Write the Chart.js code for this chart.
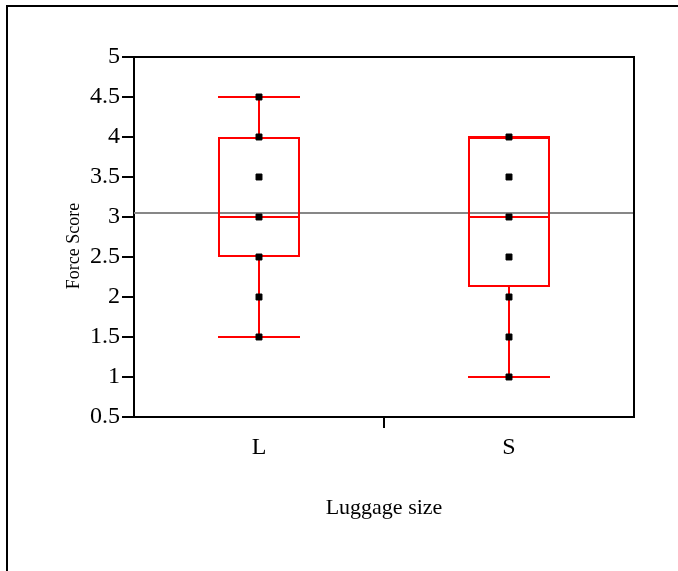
<!DOCTYPE html>
<html>
<head>
<meta charset="utf-8">
<title>Force Score by Luggage size</title>
<script src="https://cdn.jsdelivr.net/npm/chart.js@4.4.1/dist/chart.umd.min.js"></script>
<style>
  html, body { margin: 0; padding: 0; background: #fff; overflow: hidden; }
  #wrap { position: relative; width: 678px; height: 571px; }
  #frame {
    position: absolute; left: 6px; top: 5px; width: 700px; height: 600px;
    border-left: 2px solid #000; border-top: 2px solid #000;
  }
  #chart { position: absolute; left: 0; top: 0; }
</style>
</head>
<body>
<div id="wrap">
  <div id="frame"></div>
  <canvas id="chart" width="678" height="571"></canvas>
</div>
<script>
'use strict';

// data
const categories = ['L', 'S'];
const scoresL = [1.5, 2, 2.5, 3, 3.5, 4, 4.5];
const scoresS = [1, 1.5, 2, 2.5, 3, 3.5, 4];
const lows = [1.5, 1];
const q1s = [2.5, 2.125];
const medians = [3, 3];
const q3s = [4, 4];
const highs = [4.5, 4];
const grandMean = 3.05;
const yTicks = [0.5, 1, 1.5, 2, 2.5, 3, 3.5, 4, 4.5, 5];
const yTickLabels = ['0.5', '1', '1.5', '2', '2.5', '3', '3.5', '4', '4.5', '5'];
const yTitle = 'Force Score';

const RED = '#ff0000';
const SERIF = "'Liberation Serif', 'Times New Roman', serif";

Chart.defaults.color = '#000';
Chart.defaults.font.family = SERIF;

// whisker segments, broken by nulls
const whiskers = [];
categories.forEach((c, i) => {
    whiskers.push({ x: c, y: lows[i] }, { x: c, y: q1s[i] }, { x: c, y: null });
    if (highs[i] > q3s[i]) {
        whiskers.push({ x: c, y: q3s[i] }, { x: c, y: highs[i] }, { x: c, y: null });
    }
});

const caps = [];
categories.forEach((c, i) => {
    caps.push({ x: c, y: lows[i] }, { x: c, y: highs[i] });
});

const medianPts = categories.map((c, i) => ({ x: c, y: medians[i] }));

const points = scoresL.map(v => ({ x: 'L', y: v }))
    .concat(scoresS.map(v => ({ x: 'S', y: v })));

// top and right edges of the plot box, plus the rotated y title
const plotFrame = {
    id: 'plotFrame',
    afterDatasetsDraw(chart) {
        const { ctx, chartArea: a } = chart;
        ctx.save();
        ctx.strokeStyle = '#000';
        ctx.lineWidth = 2;
        ctx.beginPath();
        ctx.moveTo(a.left, a.top);
        ctx.lineTo(a.right, a.top);
        ctx.lineTo(a.right, a.bottom);
        ctx.stroke();

        ctx.translate(74, (a.top + a.bottom) / 2 + 9);
        ctx.rotate(-Math.PI / 2);
        ctx.font = "18px " + SERIF;
        ctx.fillStyle = '#000';
        ctx.textAlign = 'center';
        ctx.textBaseline = 'middle';
        ctx.fillText(yTitle, 0, 0);
        ctx.restore();
    }
};

new Chart(document.getElementById('chart'), {
    type: 'bar',
    data: {
        labels: categories,
        datasets: [
            {
                type: 'line',
                label: 'Grand mean',
                xAxisID: 'xm',
                data: [{ x: 0, y: grandMean }, { x: 1, y: grandMean }],
                borderColor: 'rgb(135,135,135)',
                borderWidth: 2,
                pointRadius: 0,
                order: 5
            },
            {
                type: 'bar',
                label: 'Box',
                data: categories.map((c, i) => [q1s[i], q3s[i]]),
                backgroundColor: 'rgba(0,0,0,0)',
                borderColor: RED,
                borderWidth: 2,
                borderSkipped: false,
                grouped: false,
                maxBarThickness: 82,
                order: 4
            },
            {
                type: 'line',
                label: 'Whiskers',
                data: whiskers,
                borderColor: RED,
                borderWidth: 2,
                spanGaps: false,
                pointRadius: 0,
                order: 3
            },
            {
                type: 'line',
                label: 'Caps',
                data: caps.concat(medianPts),
                showLine: false,
                pointStyle: 'line',
                pointRadius: 41,
                pointBorderWidth: 2,
                pointBorderColor: RED,
                order: 2
            },
            {
                type: 'line',
                label: 'Force Score',
                data: points,
                showLine: false,
                pointStyle: 'rect',
                pointRadius: 4.2,
                pointBackgroundColor: '#000',
                pointBorderColor: '#000',
                pointBorderWidth: 1,
                order: 1
            }
        ]
    },
    options: {
        responsive: false,
        animation: false,
        events: [],
        layout: { padding: { left: 0, top: 57, right: 44, bottom: 0 } },
        plugins: {
            legend: { display: false },
            tooltip: { enabled: false }
        },
        scales: {
            x: {
                type: 'category',
                offset: true,
                grid: {
                    offset: true,
                    drawOnChartArea: false,
                    drawTicks: true,
                    tickLength: 11,
                    lineWidth: 2,
                    color: ctx => (ctx.index === 1 ? '#000' : 'rgba(0,0,0,0)')
                },
                border: { display: true, color: '#000', width: 2 },
                ticks: { font: { size: 24 }, color: '#000', padding: 5 },
                title: {
                    display: true,
                    text: 'Luggage size',
                    font: { size: 22 },
                    color: '#000',
                    padding: { top: 0, bottom: 50 }
                },
                afterFit: s => { s.height = 154; }
            },
            xm: {
                type: 'linear',
                display: false,
                offset: false,
                min: 0,
                max: 1
            },
            y: {
                type: 'linear',
                min: 0.5,
                max: 5,
                afterBuildTicks: s => { s.ticks = yTicks.map(v => ({ value: v })); },
                grid: {
                    drawOnChartArea: false,
                    drawTicks: true,
                    tickLength: 12,
                    lineWidth: 2,
                    color: '#000'
                },
                border: { display: true, color: '#000', width: 2 },
                ticks: {
                    font: { size: 24 },
                    color: '#000',
                    padding: 2,
                    callback: (v, i) => yTickLabels[i]
                },
                afterFit: s => { s.width = 134; }
            }
        }
    },
    plugins: [plotFrame]
});
</script>
</body>
</html>
